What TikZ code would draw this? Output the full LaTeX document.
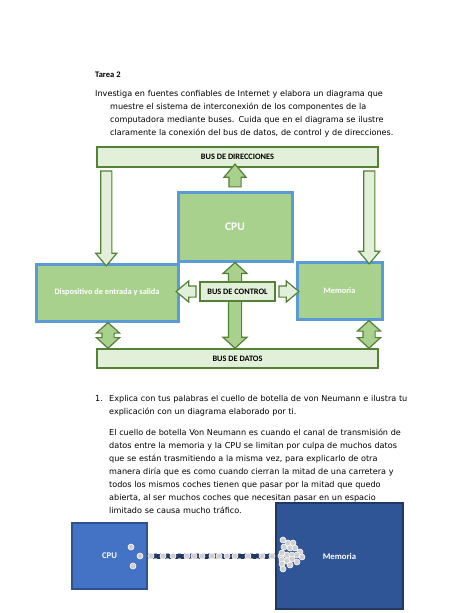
\documentclass[tikz,border=0pt]{standalone}
\usepackage{fontspec}
\setmainfont{DejaVu Sans}
\newfontfamily\calibri{Carlito}
\usetikzlibrary{calc,shapes.arrows}

\definecolor{boxfill}{HTML}{A9D18E}
\definecolor{boxline}{HTML}{5B9BD5}
\definecolor{busfill}{HTML}{E2EFD9}
\definecolor{busline}{HTML}{538135}
\definecolor{cpublue}{HTML}{4472C4}
\definecolor{cpuedge}{HTML}{2F528F}
\definecolor{memblue}{HTML}{2F5597}
\definecolor{memedge}{HTML}{203864}
\definecolor{dotgray}{HTML}{CFCFCF}

% block arrow laid between two points
\newcommand{\blockarrow}[3]{%
  \path let \p1=($(#3)-(#2)$) in
    node[#1, minimum height={veclen(\x1,\y1)}, rotate={-atan2(\y1,\x1)}] at ($(#2)!0.5!(#3)$) {};}
\newcommand{\hang}{\hspace*{15pt}}

\tikzset{
  txt/.style={anchor=north west, inner sep=0pt, align=left, text width=380pt, font=\fontsize{8.1}{13}\selectfont},
  unit/.style={draw=boxline, fill=boxfill, line width=3pt, text=white, font=\calibri\bfseries\fontsize{8.3}{10}\selectfont},
  bus/.style={draw=busline, fill=busfill, line width=1.5pt, text=black, font=\calibri\bfseries\fontsize{8.3}{10}\selectfont},
  arrowone/.style={single arrow, draw=busline, line width=1.2pt, inner xsep=0pt, inner ysep=5.5pt,
    single arrow head extend=5pt, single arrow tip angle=80},
  arrowtwo/.style={double arrow, draw=busline, fill=boxfill, line width=1.2pt, inner xsep=0pt, inner ysep=6pt,
    double arrow head extend=5.5pt, double arrow tip angle=95},
  block/.style={line width=2.5pt, text=white, font=\calibri\bfseries\fontsize{8.7}{10}\selectfont},
  dot/.style={fill=dotgray, draw=white, line width=0.6pt}
}

\begin{document}
\begin{tikzpicture}[x=1pt,y=1pt,yscale=-1]
\fill[white] (0,0) rectangle (474,613);
\useasboundingbox (0,0) rectangle (474,613);

% Text Node
\node[anchor=base west, inner sep=0pt, font=\calibri\bfseries\fontsize{8.5}{10}\selectfont] (tarea) at (95,77) {Tarea 2};
% Text Node
\node[txt] (enunciado) at (95,89.8) {Investiga en fuentes confiables de Internet y elabora un diagrama que\\
\hang muestre el sistema de interconexión de los componentes de la\\
\hang computadora mediante buses. Cuida que en el diagrama se ilustre\\
\hang claramente la conexión del bus de datos, de control y de direcciones.};

%Shape: buses and units
\node[bus, minimum width=281pt, minimum height=20pt] (dir) at (237.5,157) {BUS DE DIRECCIONES};
\node[unit, minimum width=114pt, minimum height=69pt, font=\calibri\bfseries\fontsize{11.5}{13}\selectfont] (cpu) at (235,226.5) {CPU};
\node[unit, minimum width=142pt, minimum height=57pt] (disp) at (107,292.5) {Dispositivo de entrada y salida};
\node[unit, minimum width=85pt, minimum height=57pt] (mem) at (339.5,290.5) {Memoria};
\node[bus, minimum width=281pt, minimum height=19pt] (datos) at (237.5,358.5) {BUS DE DATOS};

% arrows to bus de direcciones
\coordinate (l1) at ($(dir.south west)+(10,0)$);
\coordinate (l2) at (l1 |- disp.north);
\coordinate (r1) at ($(dir.south east)+(-9.5,0)$);
\coordinate (r2) at (r1 |- mem.north);
\blockarrow{arrowone, fill=boxfill}{cpu.north}{cpu.north |- dir.south}
\blockarrow{arrowone, fill=busfill, inner ysep=5pt}{l1}{l2}
\blockarrow{arrowone, fill=busfill, inner ysep=5pt}{r1}{r2}

% arrows to bus de datos
\coordinate (d1) at ($(disp.south)+(1,0)$);
\coordinate (m1) at ($(mem.south)+(29.5,0)$);
\blockarrow{arrowtwo}{cpu.south}{cpu.south |- datos.north}
\blockarrow{arrowtwo, inner ysep=5.5pt}{d1}{d1 |- datos.north}
\blockarrow{arrowtwo, inner ysep=5.5pt}{m1}{m1 |- datos.north}

% bus de control
\node[bus, minimum width=75pt, minimum height=19pt] (ctrl) at (237.5,291.5) {BUS DE CONTROL};
\blockarrow{arrowone, fill=busfill, inner ysep=5pt}{ctrl.west}{ctrl.west -| disp.east}
\blockarrow{arrowone, fill=busfill, inner ysep=5pt}{ctrl.east}{ctrl.east -| mem.west}

% Text Node
\node[anchor=base west, inner sep=0pt, font=\fontsize{8.1}{13}\selectfont] (num) at (95,401) {1.};
% Text Node
\node[txt] (explica) at (109,394.8) {Explica con tus palabras el cuello de botella de von Neumann e ilustra tu\\
explicación con un diagrama elaborado por ti.\\[8pt]
El cuello de botella Von Neumann es cuando el canal de transmisión de\\
datos entre la memoria y la CPU se limitan por culpa de muchos datos\\
que se están trasmitiendo a la misma vez, para explicarlo de otra\\
manera diría que es como cuando cierran la mitad de una carretera y\\
todos los mismos coches tienen que pasar por la mitad que quedo\\
abierta, al ser muchos coches que necesitan pasar en un espacio\\
limitado se causa mucho tráfico.};

%Shape: von Neumann bottleneck
\node[block, fill=cpublue, draw=cpuedge, minimum width=75pt, minimum height=66pt] (cpub) at (109.5,556) {CPU};
\node[block, fill=memblue, draw=memedge, minimum width=127pt, minimum height=106pt] (memb) at (339.5,556) {Memoria};
\draw[line width=5pt, memedge] (cpub.east) -- (memb.west);
\draw[line width=0.5pt, gray!60, dashed] ($(cpub.east)+(0,-2.5)$) -- ($(memb.west)+(0,-2.5)$);
\draw[line width=0.5pt, gray!60, dashed] ($(cpub.east)+(0,2.5)$) -- ($(memb.west)+(0,2.5)$);
\foreach \x in {140,151,163,173,187,194,202,212,219,227,235,248,262,272,281}
  \filldraw[dot] (\x,556) circle (3);
\foreach \x/\y in {131/547,133/566,
  283/540,288/543,293/543,284/547,290/548,295/548,300/552,282/553,287/555,292/555,
  297/555,302/557,282/560,287/561,292/559,297/562,282/564,290/565,283/569}
  \filldraw[dot] (\x,\y) circle (3);

\end{tikzpicture}
\end{document}
